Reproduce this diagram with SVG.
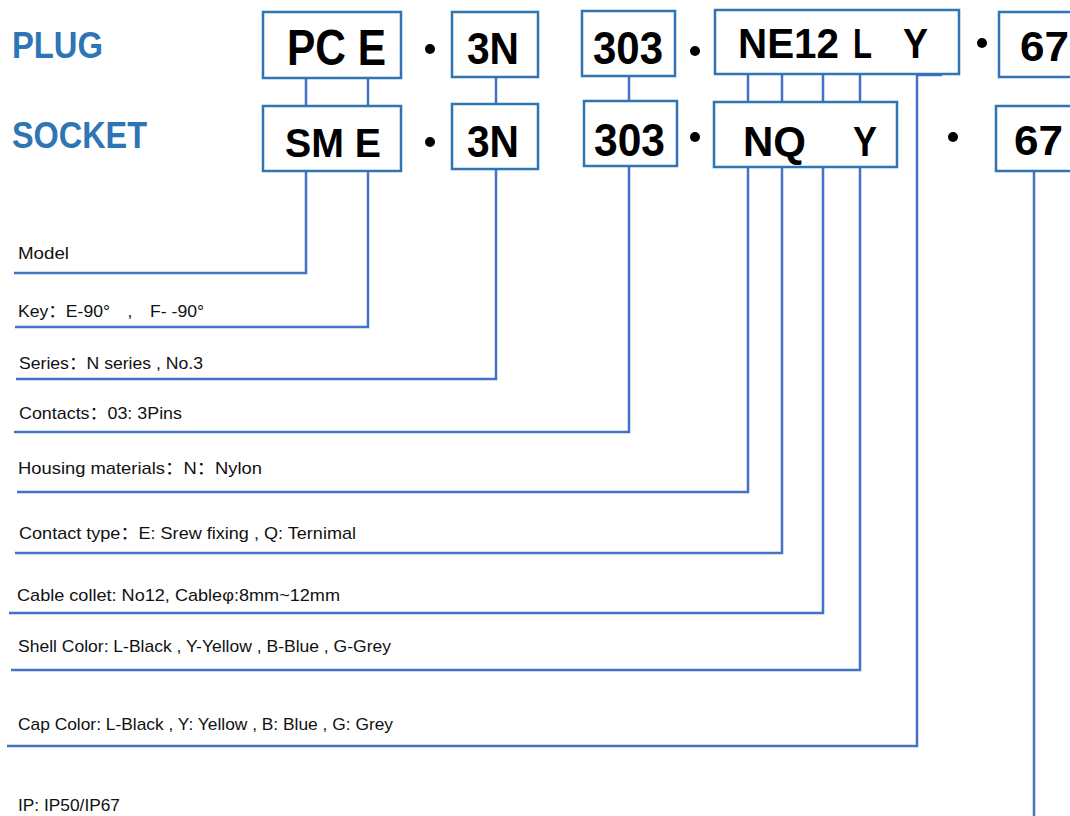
<svg xmlns="http://www.w3.org/2000/svg" width="1070" height="816" viewBox="0 0 1070 816">
<style>
.box{fill:#fff;stroke:#2F75B5;stroke-width:2.5}
.ln{fill:none;stroke:#4472C4;stroke-width:2.5}
.hd{font-family:"Liberation Sans",Arial,sans-serif;font-weight:bold;fill:#2E75B6;font-size:36px}
.bt{font-family:"Liberation Sans",Arial,sans-serif;font-weight:bold;fill:#000}
.lb{font-family:"Liberation Sans","Noto Sans CJK SC",sans-serif;fill:#111;font-size:17px}
.dot{fill:#000}
</style>
<rect width="1070" height="816" fill="#fff"/>
<g id="headers">
<text class="hd" x="12" y="58" textLength="91" lengthAdjust="spacingAndGlyphs">PLUG</text>
<text class="hd" x="12" y="148" textLength="135" lengthAdjust="spacingAndGlyphs">SOCKET</text>
</g>
<g id="connectors">
<path class="ln" d="M306 78V106M368 78V106"/>
<path class="ln" d="M496 77V104"/>
<path class="ln" d="M629 76V101"/>
<path class="ln" d="M748 74V102M782 74V102M823 74V102M860 74V102"/>
<path class="ln" d="M14 273H306V171"/>
<path class="ln" d="M15 327H368V171"/>
<path class="ln" d="M16 379H496V169"/>
<path class="ln" d="M14 432H629V166"/>
<path class="ln" d="M17 492H748V167"/>
<path class="ln" d="M15 553H782V167"/>
<path class="ln" d="M9 613H823V167"/>
<path class="ln" d="M11 670H860V167"/>
<path class="ln" d="M7 746H917V75H942"/>
<path class="ln" d="M1034 171V816"/>
</g>
<g id="dots">
<circle class="dot" cx="430" cy="49" r="5"/>
<circle class="dot" cx="430" cy="142" r="5"/>
<circle class="dot" cx="695" cy="51" r="5"/>
<circle class="dot" cx="695" cy="137" r="5"/>
<circle class="dot" cx="982" cy="43" r="5"/>
<circle class="dot" cx="953" cy="137" r="5"/>
</g>
<g id="plug-model">
<rect class="box" x="263" y="12" width="138" height="66"/>
<text class="bt" x="287" y="65" font-size="50" textLength="99" lengthAdjust="spacingAndGlyphs">PC E</text>
</g>
<g id="socket-model">
<rect class="box" x="263" y="106" width="138" height="65"/>
<text class="bt" x="285" y="157" font-size="40" textLength="96" lengthAdjust="spacingAndGlyphs">SM E</text>
</g>
<g id="plug-series">
<rect class="box" x="452" y="12" width="86" height="65"/>
<text class="bt" x="467" y="64" font-size="44" textLength="52" lengthAdjust="spacingAndGlyphs">3N</text>
</g>
<g id="socket-series">
<rect class="box" x="452" y="104" width="86" height="65"/>
<text class="bt" x="467" y="157" font-size="44" textLength="52" lengthAdjust="spacingAndGlyphs">3N</text>
</g>
<g id="plug-contacts">
<rect class="box" x="582" y="11" width="93" height="65"/>
<text class="bt" x="593" y="64" font-size="46" textLength="70" lengthAdjust="spacingAndGlyphs">303</text>
</g>
<g id="socket-contacts">
<rect class="box" x="584" y="101" width="93" height="65"/>
<text class="bt" x="594" y="156" font-size="46" textLength="71" lengthAdjust="spacingAndGlyphs">303</text>
</g>
<g id="plug-options">
<rect class="box" x="715" y="10" width="244" height="64"/>
<text class="bt" x="738" y="58" font-size="42" textLength="101" lengthAdjust="spacingAndGlyphs">NE12</text>
<text class="bt" x="853" y="58" font-size="42" textLength="19" lengthAdjust="spacingAndGlyphs">L</text>
<text class="bt" x="903" y="58" font-size="42" textLength="25" lengthAdjust="spacingAndGlyphs">Y</text>
</g>
<g id="socket-options">
<rect class="box" x="714" y="102" width="183" height="65"/>
<text class="bt" x="743" y="156" font-size="42" textLength="63" lengthAdjust="spacingAndGlyphs">NQ</text>
<text class="bt" x="853" y="156" font-size="42" textLength="24" lengthAdjust="spacingAndGlyphs">Y</text>
</g>
<g id="plug-ip">
<rect class="box" x="999" y="12" width="80" height="65"/>
<text class="bt" x="1020" y="61" font-size="42" textLength="49" lengthAdjust="spacingAndGlyphs">67</text>
</g>
<g id="socket-ip">
<rect class="box" x="996" y="106" width="80" height="65"/>
<text class="bt" x="1014" y="155" font-size="42" textLength="49" lengthAdjust="spacingAndGlyphs">67</text>
</g>
<g id="labels">
<text class="lb" x="18" y="259" textLength="51" lengthAdjust="spacingAndGlyphs">Model</text>
<text class="lb" x="18" y="317" textLength="186" lengthAdjust="spacingAndGlyphs" xml:space="preserve">Key：E-90°　,　F- -90°</text>
<text class="lb" x="19" y="369" textLength="184" lengthAdjust="spacingAndGlyphs">Series：N series , No.3</text>
<text class="lb" x="19" y="419" textLength="163" lengthAdjust="spacingAndGlyphs">Contacts：03: 3Pins</text>
<text class="lb" x="18" y="474" textLength="244" lengthAdjust="spacingAndGlyphs">Housing materials：N：Nylon</text>
<text class="lb" x="19" y="539" textLength="337" lengthAdjust="spacingAndGlyphs">Contact type：E: Srew fixing , Q: Ternimal</text>
<text class="lb" x="17" y="601" textLength="323" lengthAdjust="spacingAndGlyphs">Cable collet: No12, Cableφ:8mm~12mm</text>
<text class="lb" x="18" y="652" textLength="373" lengthAdjust="spacingAndGlyphs">Shell Color: L-Black , Y-Yellow , B-Blue , G-Grey</text>
<text class="lb" x="18" y="730" textLength="375" lengthAdjust="spacingAndGlyphs">Cap Color: L-Black , Y: Yellow , B: Blue , G: Grey</text>
<text class="lb" x="18" y="811" textLength="102" lengthAdjust="spacingAndGlyphs">IP: IP50/IP67</text>
</g>
</svg>
